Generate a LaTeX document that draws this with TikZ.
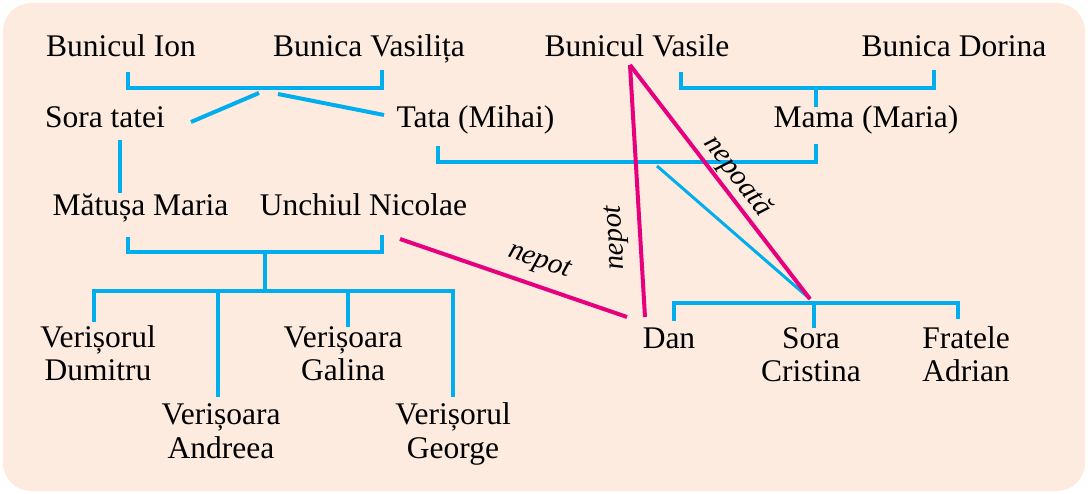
\documentclass[tikz,border=0pt]{standalone}
\usepackage{fontspec}
\setmainfont{Liberation Serif}
\usetikzlibrary{positioning}
\definecolor{piersica}{RGB}{253,235,224}
\definecolor{albastru}{RGB}{0,174,239}
\definecolor{roz}{RGB}{230,0,126}

\begin{document}
\begin{tikzpicture}[x=1pt,y=-1pt,
        persoana/.style={anchor=base, inner sep=0pt, align=center, font=\fontsize{31.5}{33}\selectfont},
        ruda/.style={draw=albastru, line width=4pt},
        nepoti/.style={draw=roz, line width=4pt},
        eticheta/.style={font=\fontsize{29}{30}\selectfont\itshape, sloped, anchor=south, inner xsep=0pt}]
        \useasboundingbox (0,0) rectangle (1088,494);
        \fill[piersica, rounded corners=28pt] (3,3) rectangle (1085,491);
        %
        \node[persoana] (ion) at (121,57) {Bunicul Ion};
        \node[persoana] (vasilita) at (369,57) {Bunica Vasilița};
        \node[persoana] (vasile) at (637,57) {Bunicul Vasile};
        \node[persoana] (dorina) at (954,57) {Bunica Dorina};
        
        % Parinti
        \node[persoana] (soratatei) at (105,128) {Sora tatei};
        \node[persoana] (tata) at (475.5,128) {Tata (Mihai)};
        \node[persoana] (mama) at (866,128) {Mama (Maria)};
        \node[persoana] (matusa) at (140.5,216) {Mătușa Maria};
        \node[persoana] (unchiul) at (363.5,216) {Unchiul Nicolae};
        
        % Copii
        \node[persoana] (dumitru) at (98,381) {Verișorul\\Dumitru};
        \node[persoana] (andreea) at (221,458) {Verișoara\\Andreea};
        \node[persoana] (galina) at (343,381) {Verișoara\\Galina};
        \node[persoana] (george) at (453,458) {Verișorul\\George};
        \node[persoana] (dan) at (669,349) {Dan};
        \node[persoana] (cristina) at (811,382) {Sora\\Cristina};
        \node[persoana] (adrian) at (966,382) {Fratele\\Adrian};
        
        % Cupluri
        \coordinate (cuplu1) at (268,88);
        \coordinate (cuplu2) at (816,88);
        \coordinate (cuplu3) at (657,162);
        \coordinate (cuplu4) at (265,252);
        \coordinate (veri) at (265,291);
        \coordinate (frati) at (814,303);
        
        % Legaturi de familie
        \draw[ruda] ([shift={(7,15)}]ion.base) |- (cuplu1) -| ([shift={(13,13)}]vasilita.base);
        \draw[ruda] ([shift={(-9,5)}]cuplu1) -- ([shift={(86,-6)}]soratatei.base);
        \draw[ruda] ([shift={(10,6)}]cuplu1) -- ([shift={(-91.5,-13)}]tata.base);
        \draw[ruda] ([shift={(44,15)}]vasile.base) |- (cuplu2) -| ([shift={(-20,13)}]dorina.base);
        \draw[ruda] (cuplu2) -- ([shift={(-50,-21)}]mama.base);
        \draw[ruda] ([shift={(15,12)}]soratatei.base) -- ([shift={(-20.5,-23)}]matusa.base);
        \draw[ruda] ([shift={(-37.5,18)}]tata.base) |- (cuplu3) -| ([shift={(-50,16)}]mama.base);
        \draw[ruda, line width=3pt] ([shift={(0,4)}]cuplu3) -- ([shift={(-4,-4)}]frati);
        \draw[ruda] ([shift={(-12.5,21)}]matusa.base) |- (cuplu4) -| ([shift={(18,19)}]unchiul.base);
        \draw[ruda] (cuplu4) -- (veri);
        \draw[ruda] ([shift={(-4,-59)}]dumitru.base) |- (veri) -| ([shift={(0,-61)}]george.base);
        \draw[ruda] ([shift={(-3,-61)}]andreea.base) -- ++(0,-106);
        \draw[ruda] ([shift={(5,-54)}]galina.base) -- ++(0,-36);
        \draw[ruda] ([shift={(5,-28)}]dan.base) |- (frati) -| ([shift={(-8,-63)}]adrian.base);
        \draw[ruda] (frati) -- ([shift={(3,-54)}]cristina.base);
        
        % Nepoti
        \draw[nepoti] ([shift={(36.5,23)}]unchiul.base) -- ([shift={(-42,-32)}]dan.base)
            node[eticheta, pos=0.58, inner ysep=10pt] {nepot};
        \draw[nepoti] ([shift={(-24,-32)}]dan.base) -- ([shift={(-7,8)}]vasile.base)
            node[eticheta, pos=0.32, inner ysep=10pt, allow upside down] {nepot};
        \draw[nepoti] ([shift={(-7,8)}]vasile.base) -- ([shift={(-4,-4)}]frati)
            node[eticheta, pos=0.52, inner ysep=2pt] {nepoată};

    \end{tikzpicture}
\end{document}
